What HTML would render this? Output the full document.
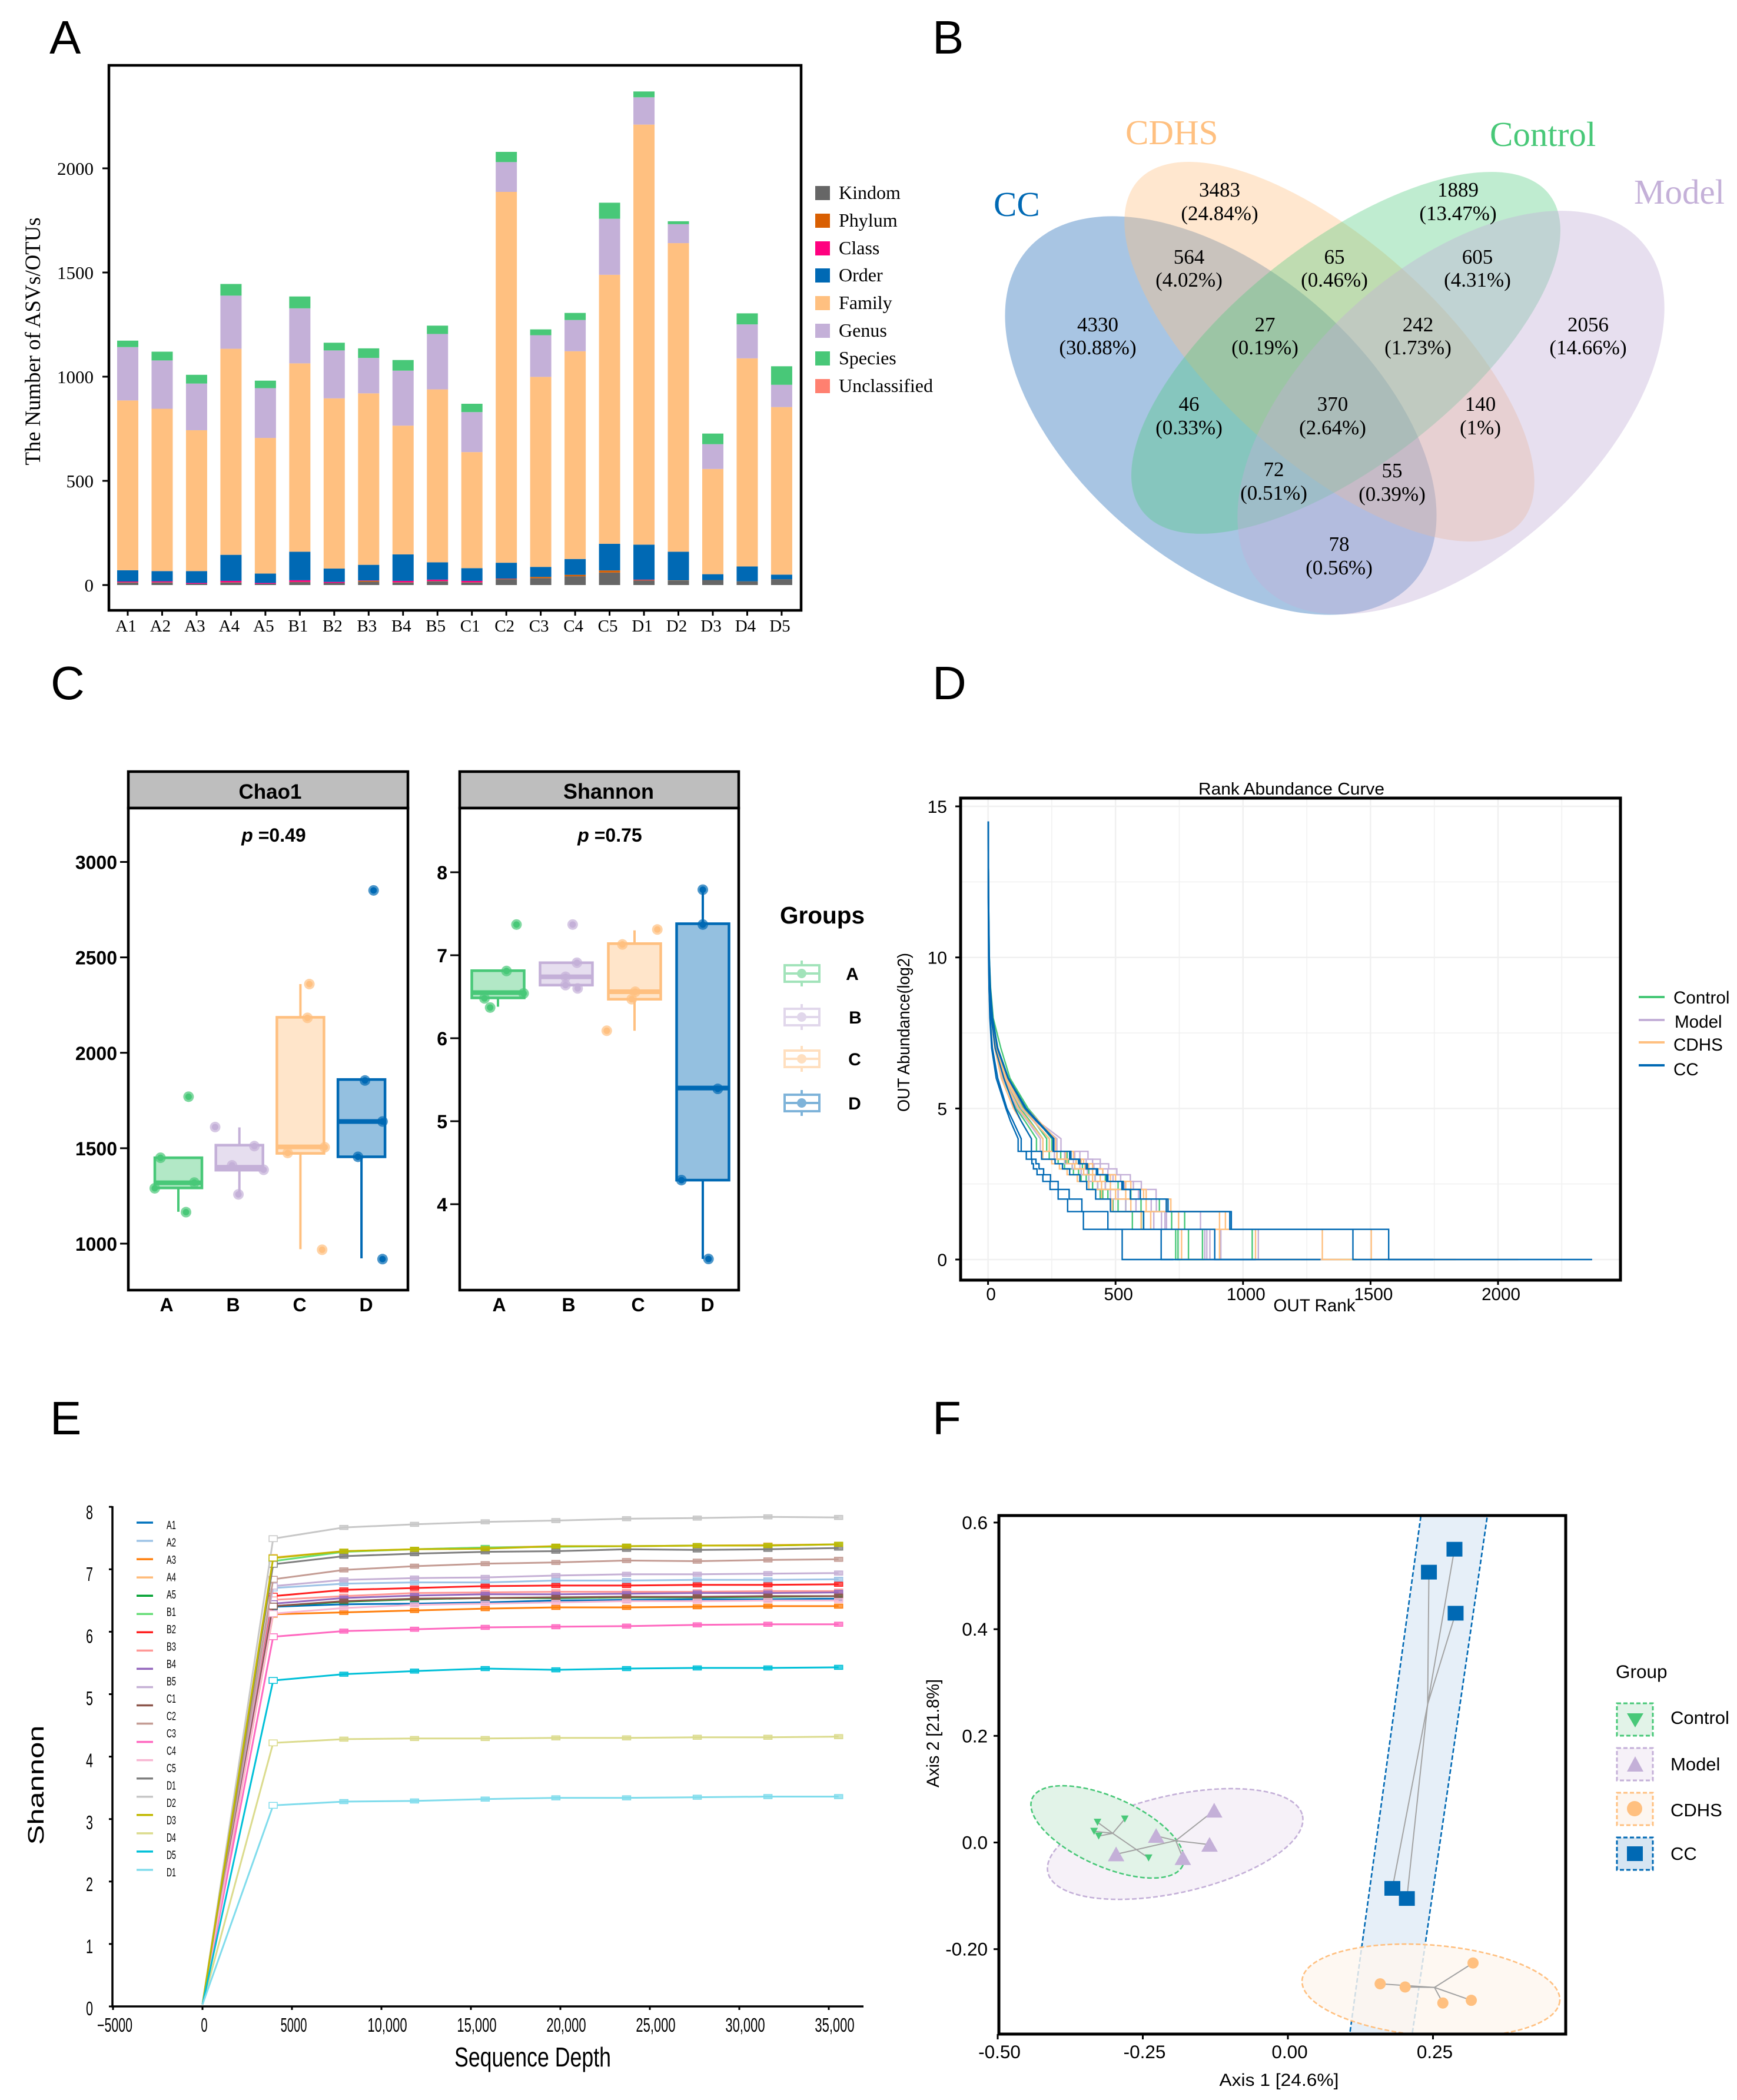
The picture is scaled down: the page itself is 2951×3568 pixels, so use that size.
<!DOCTYPE html>
<html lang="en">
<head>
<meta charset="utf-8">
<title>Microbiome multi-panel figure</title>
<style>
html,body{margin:0;padding:0;background:#fff;}
svg{display:block;}
.serif{font-family:"Liberation Serif",serif;}
.sans{font-family:"Liberation Sans",sans-serif;}
.letter{font-family:"Liberation Sans",sans-serif;font-size:80px;fill:#000;}
.venn-v{font-family:"Liberation Serif",serif;font-size:35px;fill:#000;text-anchor:middle;}
</style>
</head>
<body>
<svg id="figure" xmlns="http://www.w3.org/2000/svg" width="2951" height="3568" viewBox="0 0 2951 3568">
<defs>
<clipPath id="clipF"><rect x="1697" y="2575" width="963" height="881"/></clipPath>
</defs>
<rect x="0" y="0" width="2951" height="3568" fill="#ffffff"/>

<text class="letter" x="84" y="91">A</text>
<text class="letter" x="1584" y="91">B</text>
<text class="letter" x="86" y="1188">C</text>
<text class="letter" x="1584" y="1188">D</text>
<text class="letter" x="85" y="2437">E</text>
<text class="letter" x="1584" y="2437">F</text>

<!-- Panel A -->
<g id="panelA">
<text class="serif" transform="translate(68,580) rotate(-90)" text-anchor="middle" font-size="37" textLength="421" lengthAdjust="spacingAndGlyphs">The Number of ASVs/OTUs</text>
</g>
<g class="serif" font-size="32">
<rect x="1385" y="316" width="25" height="24" fill="#666666"/><text x="1425" y="338">Kindom</text>
<rect x="1385" y="363" width="25" height="24" fill="#D95F02"/><text x="1425" y="385">Phylum</text>
<rect x="1385" y="410" width="25" height="24" fill="#FF007F"/><text x="1425" y="432">Class</text>
<rect x="1385" y="456" width="25" height="24" fill="#0069B4"/><text x="1425" y="478">Order</text>
<rect x="1385" y="503" width="25" height="24" fill="#FFC080"/><text x="1425" y="525">Family</text>
<rect x="1385" y="550" width="25" height="24" fill="#C4B0D8"/><text x="1425" y="572">Genus</text>
<rect x="1385" y="597" width="25" height="24" fill="#48C878"/><text x="1425" y="619">Species</text>
<rect x="1385" y="644" width="25" height="24" fill="#FF8070"/><text x="1425" y="666">Unclassified</text>
</g>

<!-- Panel B -->
<g>
<ellipse cx="2074" cy="706" rx="433" ry="248" transform="rotate(40.5 2074 706)" fill="#0055AC" fill-opacity="0.34"/>
<ellipse cx="2258.5" cy="597.5" rx="436" ry="187.5" transform="rotate(41.8 2258.5 597.5)" fill="#FFBF80" fill-opacity="0.38"/>
<ellipse cx="2286.5" cy="599.5" rx="438" ry="188.5" transform="rotate(-37.9 2286.5 599.5)" fill="#48C878" fill-opacity="0.35"/>
<ellipse cx="2465" cy="701" rx="435" ry="244.6" transform="rotate(-41.9 2465 701)" fill="#C4B0D8" fill-opacity="0.4"/>
<g class="serif" font-size="59">
<text x="1688" y="367" fill="#0069B4">CC</text>
<text x="1912" y="245" fill="#FFC080">CDHS</text>
<text x="2531" y="248" fill="#48C878">Control</text>
<text x="2776" y="346" fill="#C4B0D8">Model</text>
</g>
<g>
<text class="venn-v" x="2072" y="334">3483</text><text class="venn-v" x="2072" y="374">(24.84%)</text>
<text class="venn-v" x="2477" y="334">1889</text><text class="venn-v" x="2477" y="374">(13.47%)</text>
<text class="venn-v" x="2020" y="448">564</text><text class="venn-v" x="2020" y="487">(4.02%)</text>
<text class="venn-v" x="2267" y="448">65</text><text class="venn-v" x="2267" y="487">(0.46%)</text>
<text class="venn-v" x="2510" y="448">605</text><text class="venn-v" x="2510" y="487">(4.31%)</text>
<text class="venn-v" x="1865" y="563">4330</text><text class="venn-v" x="1865" y="602">(30.88%)</text>
<text class="venn-v" x="2149" y="563">27</text><text class="venn-v" x="2149" y="602">(0.19%)</text>
<text class="venn-v" x="2409" y="563">242</text><text class="venn-v" x="2409" y="602">(1.73%)</text>
<text class="venn-v" x="2698" y="563">2056</text><text class="venn-v" x="2698" y="602">(14.66%)</text>
<text class="venn-v" x="2020" y="698">46</text><text class="venn-v" x="2020" y="738">(0.33%)</text>
<text class="venn-v" x="2264" y="698">370</text><text class="venn-v" x="2264" y="738">(2.64%)</text>
<text class="venn-v" x="2515" y="698">140</text><text class="venn-v" x="2515" y="738">(1%)</text>
<text class="venn-v" x="2164" y="809">72</text><text class="venn-v" x="2164" y="849">(0.51%)</text>
<text class="venn-v" x="2365" y="811">55</text><text class="venn-v" x="2365" y="851">(0.39%)</text>
<text class="venn-v" x="2275" y="936">78</text><text class="venn-v" x="2275" y="976">(0.56%)</text>
</g>
</g>

<!-- Panel C -->
<g id="panelC" class="sans" font-weight="bold">
<rect x="218" y="1311" width="475" height="62" fill="#BEBEBE" stroke="#000" stroke-width="4.5"/>
<rect x="218" y="1373" width="475" height="819" fill="#fff" stroke="#000" stroke-width="4.5"/>
<text x="459" y="1357" font-size="35" text-anchor="middle">Chao1</text>
<text x="465" y="1430" font-size="32" text-anchor="middle"><tspan font-style="italic">p</tspan> =0.49</text>
<rect x="781" y="1311" width="474" height="62" fill="#BEBEBE" stroke="#000" stroke-width="4.5"/>
<rect x="781" y="1373" width="474" height="819" fill="#fff" stroke="#000" stroke-width="4.5"/>
<text x="1034" y="1357" font-size="36" text-anchor="middle">Shannon</text>
<text x="1036" y="1430" font-size="32" text-anchor="middle"><tspan font-style="italic">p</tspan> =0.75</text>
<text x="1325" y="1569" font-size="40.5">Groups</text>
<g opacity="0.5">
<g stroke="#48C878" stroke-width="4" fill="none"><line x1="1362" y1="1632" x2="1362" y2="1676"/><rect x="1333" y="1640" width="59" height="28" fill="#fff"/><line x1="1333" y1="1654" x2="1392" y2="1654"/><circle cx="1362" cy="1654" r="6" fill="#48C878"/></g>
<g stroke="#C4B0D8" stroke-width="4" fill="none"><line x1="1362" y1="1706" x2="1362" y2="1750"/><rect x="1333" y="1714" width="59" height="28" fill="#fff"/><line x1="1333" y1="1728" x2="1392" y2="1728"/><circle cx="1362" cy="1728" r="6" fill="#C4B0D8"/></g>
<g stroke="#FFC080" stroke-width="4" fill="none"><line x1="1362" y1="1777" x2="1362" y2="1821"/><rect x="1333" y="1785" width="59" height="28" fill="#fff"/><line x1="1333" y1="1799" x2="1392" y2="1799"/><circle cx="1362" cy="1799" r="6" fill="#FFC080"/></g>
<g stroke="#0069B4" stroke-width="4" fill="none"><line x1="1362" y1="1852" x2="1362" y2="1896"/><rect x="1333" y="1860" width="59" height="28" fill="#fff"/><line x1="1333" y1="1874" x2="1392" y2="1874"/><circle cx="1362" cy="1874" r="6" fill="#0069B4"/></g>
</g>
<g font-size="30" text-anchor="middle">
<text x="1448" y="1665">A</text>
<text x="1453" y="1739">B</text>
<text x="1452" y="1810">C</text>
<text x="1452" y="1885">D</text>
</g>
</g>

<!-- Panel D -->
<g id="panelD" class="sans">
<text x="2194" y="1350" font-size="29" text-anchor="middle" textLength="316" lengthAdjust="spacingAndGlyphs">Rank Abundance Curve</text>
<text x="2233" y="2228" font-size="29.6" text-anchor="middle">OUT Rank</text>
<text transform="translate(1545,1754) rotate(-90)" font-size="29" text-anchor="middle" textLength="270" lengthAdjust="spacingAndGlyphs">OUT Abundance(log2)</text>
</g>
<g class="sans" font-size="29.6">
<line x1="2784" y1="1694" x2="2828" y2="1694" stroke="#48C878" stroke-width="4"/><text x="2843" y="1705">Control</text>
<line x1="2784" y1="1733" x2="2828" y2="1733" stroke="#C4B0D8" stroke-width="4"/><text x="2845" y="1746">Model</text>
<line x1="2784" y1="1771" x2="2828" y2="1771" stroke="#FFC080" stroke-width="4"/><text x="2843" y="1785">CDHS</text>
<line x1="2784" y1="1810" x2="2828" y2="1810" stroke="#0069B4" stroke-width="4"/><text x="2843" y="1827">CC</text>
</g>

<!-- Panel E -->
<g id="panelE" class="sans">
<text x="905" y="3511" font-size="46" text-anchor="middle" textLength="266" lengthAdjust="spacingAndGlyphs">Sequence Depth</text>
<text transform="translate(74,3033) rotate(-90)" font-size="38" text-anchor="middle" textLength="203" lengthAdjust="spacingAndGlyphs">Shannon</text>
</g>

<!-- Panel F -->
<g id="panelF" class="sans">
<text x="2173" y="3544" font-size="30" text-anchor="middle" textLength="203" lengthAdjust="spacingAndGlyphs">Axis 1 [24.6%]</text>
<text transform="translate(1595,2945) rotate(-90)" font-size="30" text-anchor="middle" textLength="184" lengthAdjust="spacingAndGlyphs">Axis 2 [21.8%]</text>
</g>
<g class="sans" font-size="31">
<text x="2745" y="2851" font-size="31.5">Group</text>
<rect x="2747" y="2894" width="61" height="55" fill="#E2F3E8" stroke="#48C878" stroke-width="3" stroke-dasharray="7 4"/>
<polygon points="2764,2911 2792,2911 2778,2935" fill="#48C878"/>
<text x="2838" y="2929">Control</text>
<rect x="2747" y="2970" width="61" height="55" fill="#F6F1F8" stroke="#C4B0D8" stroke-width="3" stroke-dasharray="7 4"/>
<polygon points="2764,3010 2792,3010 2778,2984" fill="#C4B0D8"/>
<text x="2838" y="3008">Model</text>
<rect x="2747" y="3046" width="61" height="55" fill="#FDF6F0" stroke="#FFC080" stroke-width="3" stroke-dasharray="7 4"/>
<circle cx="2777" cy="3073" r="13" fill="#FFC080"/>
<text x="2838" y="3086">CDHS</text>
<rect x="2747" y="3122" width="61" height="55" fill="#D6E5F2" stroke="#0069B4" stroke-width="3" stroke-dasharray="7 4"/>
<rect x="2764" y="3137" width="27" height="25" fill="#0069B4"/>
<text x="2838" y="3160">CC</text>
</g>
</svg>

<script>
/* ===== Panel A data ===== */
const sampleNames = ['A1','A2','A3','A4','A5','B1','B2','B3','B4','B5','C1','C2','C3','C4','C5','D1','D2','D3','D4','D5'];
const kingdomCounts = [12,12,6,12,6,14,10,16,12,18,12,28,33,42,60,22,20,24,18,28];
const phylumCounts = [1,1,0,1,0,1,0,4,1,1,1,2,6,7,10,2,2,0,0,0];
const classCounts = [4,5,4,7,4,8,5,2,7,7,7,1,0,0,0,2,0,0,0,0];
const orderCounts = [54,49,57,125,45,137,64,75,127,83,61,76,48,76,128,168,138,28,71,22];
const familyCounts = [815,779,676,989,651,904,817,823,618,830,557,1780,912,997,1291,2016,1481,505,999,804];
const genusCounts = [256,232,224,255,239,264,230,170,264,266,192,143,200,150,269,131,91,119,163,107];
const speciesCounts = [31,42,42,56,36,57,37,46,51,40,40,49,28,34,77,28,14,51,53,89];
const barTicks = [0,500,1000,1500,2000];

/* ===== Panel C data ===== */
const boxGroups = ['A','B','C','D'];
const chaoQ1 = [1292,1385,1473,1455];
const chaoMedian = [1319,1400,1507,1640];
const chaoQ3 = [1450,1516,2186,1860];
const chaoLow = [1167,1258,971,923];
const chaoHigh = [1450,1609,2360,1860];
const chaoPointsA = [1290,1450,1320,1165,1770];
const chaoPointsB = [1611,1511,1410,1387,1258];
const chaoPointsC = [2360,2183,1505,1475,968];
const chaoPointsD = [2851,1855,1640,1455,919];
const chaoJitterA = [-0.37,-0.28,0.25,0.12,0.16];
const chaoJitterB = [-0.38,0.235,-0.115,0.38,-0.015];
const chaoJitterC = [0.14,0.11,0.38,-0.2,0.34];
const chaoJitterD = [0.19,0.055,0.33,-0.055,0.33];
const chaoTicks = [1000,1500,2000,2500,3000];
const shanQ1 = [6.486,6.64,6.47,4.29];
const shanMedian = [6.55,6.74,6.56,5.40];
const shanQ3 = [6.814,6.91,7.14,7.38];
const shanLow = [6.38,6.64,6.09,3.34];
const shanHigh = [6.814,6.91,7.30,7.79];
const shanPointsA = [7.37,6.81,6.54,6.48,6.37];
const shanPointsB = [7.37,6.91,6.74,6.64,6.60];
const shanPointsC = [7.31,7.13,6.56,6.47,6.09];
const shanPointsD = [7.79,7.37,5.39,4.29,3.34];
const shanJitterA = [0.26,0.12,0.36,-0.19,-0.11];
const shanJitterB = [0.09,0.15,-0.01,-0.01,0.16];
const shanJitterC = [0.32,-0.17,0.01,-0.04,-0.39];
const shanJitterD = [0,0,0.21,-0.3,0.08];
const shanTicks = [4,5,6,7,8];

/* ===== Panel D data: rank at which each abundance level ends ===== */
const abundanceLevels = [14.5,12,10,9,8,7,6,5,4.58,4,3.58,3.32,3.17,3,2.807,2.585,2.32,2,1.585,1,0];
const rankA5 = [1,2,3,7,13,27,58,110,145,190,240,275,300,335,365,395,440,490,566,736,981];
const rankA3 = [1,2,4,7,14,29,66,140,180,230,285,315,340,365,395,430,470,540,601,745,1009];
const rankA2 = [1,2,4,7,14,28,64,125,165,215,270,305,330,355,385,410,450,510,610,786,1120];
const rankA1 = [1,2,5,10,20,50,86,157,200,255,320,355,390,425,460,510,560,672,771,841,1173];
const rankA4 = [1,2,4,8,16,38,80,150,195,250,310,345,370,395,420,460,500,600,720,1036,1445];
const rankB4 = [1,2,3,7,13,27,58,115,155,205,260,300,330,365,395,430,480,540,650,850,1080];
const rankB3 = [1,2,4,7,14,29,65,130,178,240,300,335,360,390,420,460,510,580,694,858,1136];
const rankB2 = [1,2,4,8,15,31,70,145,190,265,340,385,415,450,490,535,590,640,700,870,1163];
const rankB5 = [1,2,4,8,16,34,75,150,195,286,392,440,473,505,558,601,659,700,833,913,1245];
const rankB1 = [1,2,4,8,15,32,72,148,186,270,360,410,440,470,520,570,620,660,680,1060,1385];
const rankC1 = [1,2,3,7,13,26,52,100,130,170,215,250,280,310,350,395,445,487,600,759,870];
const rankC3 = [1,2,4,7,14,28,60,120,160,215,270,310,340,375,410,445,500,560,638,908,1227];
const rankC4 = [1,2,4,8,15,30,66,135,180,240,305,345,380,410,440,480,540,620,747,1049,1306];
const rankC5 = [1,2,4,8,16,33,72,150,200,265,335,375,410,450,500,560,620,717,908,1311,1835];
const rankC2 = [1,2,4,8,15,31,70,145,195,255,325,365,395,430,480,540,610,700,931,1503,2079];
const rankD3 = [1,1,2,4,7,14,32,70,88,118,150,172,178,192,215,243,275,312,374,526,727];
const rankD5 = [1,1,3,4,8,17,38,74,98,130,170,188,200,218,245,275,318,368,470,679,1050];
const rankD4 = [1,2,3,6,13,28,62,105,130,170,210,263,292,320,360,387,422,480,610,889,1304];
const rankD2 = [1,2,4,8,17,36,78,145,190,255,320,355,385,425,465,525,558,699,948,1431,1746];
const rankD1 = [1,2,5,9,18,38,80,150,195,258,325,360,390,430,470,530,597,706,954,1571,2369];
const rankXTicks = [0,500,1000,1500,2000];
const rankYTicks = [0,5,10,15];

/* ===== Panel E data ===== */
const depthValues = [0,3950,7900,11850,15800,19750,23700,27650,31600,35550];
const curveA1 = [0.03,6.40,6.44,6.45,6.47,6.50,6.51,6.52,6.52,6.53];
const curveA2 = [0.03,6.70,6.77,6.79,6.79,6.82,6.82,6.83,6.83,6.84];
const curveA3 = [0.03,6.28,6.31,6.34,6.37,6.39,6.39,6.40,6.41,6.41];
const curveA4 = [0.03,7.19,7.29,7.32,7.35,7.37,7.37,7.38,7.39,7.40];
const curveA5 = [0.03,6.41,6.48,6.52,6.54,6.54,6.55,6.55,6.56,6.57];
const curveB1 = [0.03,7.13,7.28,7.32,7.35,7.36,7.37,7.38,7.38,7.40];
const curveB2 = [0.03,6.57,6.67,6.70,6.73,6.74,6.74,6.75,6.75,6.76];
const curveB3 = [0.03,6.51,6.57,6.62,6.63,6.64,6.64,6.64,6.65,6.65];
const curveB4 = [0.03,6.45,6.54,6.58,6.60,6.60,6.61,6.62,6.62,6.63];
const curveB5 = [0.03,6.73,6.83,6.86,6.87,6.90,6.92,6.92,6.93,6.94];
const curveC1 = [0.03,6.41,6.49,6.53,6.54,6.55,6.56,6.56,6.57,6.57];
const curveC2 = [0.03,6.84,6.99,7.05,7.09,7.11,7.14,7.13,7.15,7.16];
const curveC3 = [0.03,5.92,6.01,6.04,6.07,6.08,6.09,6.11,6.12,6.12];
const curveC4 = [0.03,6.29,6.38,6.43,6.45,6.47,6.49,6.49,6.50,6.50];
const curveD1 = [0.03,7.08,7.21,7.25,7.28,7.29,7.32,7.31,7.32,7.34];
const curveD2 = [0.03,7.49,7.67,7.72,7.76,7.78,7.81,7.82,7.84,7.83];
const curveD3 = [0.03,7.18,7.29,7.32,7.33,7.37,7.37,7.38,7.38,7.40];
const curveD4 = [0.03,4.22,4.28,4.29,4.29,4.30,4.30,4.31,4.31,4.32];
const curveD5 = [0.03,5.22,5.32,5.37,5.41,5.39,5.41,5.42,5.42,5.43];
const curveD6 = [0.03,3.22,3.28,3.29,3.32,3.34,3.34,3.35,3.36,3.36];
const curveNames = ['A1','A2','A3','A4','A5','B1','B2','B3','B4','B5','C1','C2','C3','C4','D1','D2','D3','D4','D5','D6'];
const legendLabels = ['A1','A2','A3','A4','A5','B1','B2','B3','B4','B5','C1','C2','C3','C4','C5','D1','D2','D3','D4','D5','D1'];
const depthTickValues = [-5000,0,5000,10000,15000,20000,25000,30000,35000];
const depthTickLabels = ['\u22125000','0','5000','10,000','15,000','20,000','25,000','30,000','35,000'];
const shannonTicks = [0,1,2,3,4,5,6,7,8];

/* ===== Panel F data ===== */
const controlX = [-0.328,-0.281,-0.334,-0.326,-0.240];
const controlY = [0.038,0.044,0.021,0.012,-0.029];
const modelX = [-0.127,-0.135,-0.227,-0.181,-0.296];
const modelY = [0.060,-0.004,0.0125,-0.029,-0.022];
const cdhsX = [0.319,0.316,0.267,0.202,0.159];
const cdhsY = [-0.226,-0.296,-0.301,-0.271,-0.265];
const ccX = [0.287,0.243,0.289,0.180,0.205];
const ccY = [0.55,0.507,0.430,-0.086,-0.105];
const axis1Ticks = [-0.5,-0.25,0,0.25];
const axis1Labels = ['-0.50','-0.25','0.00','0.25'];
const axis2Ticks = [0.6,0.4,0.2,0,-0.2];
const axis2Labels = ['0.6','0.4','0.2','0.0','-0.20'];
const ccBandLeft = [0.2307,0.105];
const ccBandRight = [0.3453,0.2125];
const ccBandY = [0.625,-0.372];

/* ===== helpers ===== */
const NS = 'http://www.w3.org/2000/svg';
function make(parent, tag, attrs, text) {
  const node = document.createElementNS(NS, tag);
  for (const k in attrs) node.setAttribute(k, attrs[k]);
  if (text !== undefined) node.textContent = text;
  parent.appendChild(node);
  return node;
}
const GREEN = '#48C878', PURPLE = '#C4B0D8', ORANGE = '#FFC080', BLUE = '#0069B4';

/* ===== Panel A ===== */
(function () {
  const g = document.getElementById('panelA');
  const xA = i => 217 + 58.47 * i;
  const yA = v => 994 - v * 0.354;
  const layers = [
    ['kingdom', kingdomCounts, '#666666'], ['phylum', phylumCounts, '#D95F02'],
    ['class', classCounts, '#FF007F'], ['order', orderCounts, BLUE],
    ['family', familyCounts, ORANGE], ['genus', genusCounts, PURPLE], ['species', speciesCounts, GREEN]
  ];
  const frame = make(g, 'rect', { x: 185, y: 111, width: 1176, height: 926, fill: '#fff', stroke: '#000', 'stroke-width': 4.5 });
  
  
  sampleNames.forEach((name, i) => {
    let base = 0;
    layers.forEach(layer => {
      const v = layer[1][i];
      if (v > 0) {
        const bar = make(g, 'rect', { x: xA(i) - 18, y: yA(base + v), width: 36, height: yA(base) - yA(base + v), fill: layer[2] });
        
        
      }
      base += v;
    });
    const tick = make(g, 'line', { x1: xA(i), x2: xA(i), y1: 1037, y2: 1046, stroke: '#000', 'stroke-width': 3 });
    
    
    const label = make(g, 'text', { x: xA(i) - 3, y: 1073, 'font-size': 29, 'text-anchor': 'middle', class: 'serif' }, name);
    
    
  });
  barTicks.forEach(v => {
    const tick = make(g, 'line', { x1: 174, x2: 185, y1: yA(v), y2: yA(v), stroke: '#000', 'stroke-width': 3 });
    
    
    const label = make(g, 'text', { x: 159, y: yA(v) + 11, 'font-size': 31, 'text-anchor': 'end', class: 'serif' }, String(v));
    
    
  });
})();

/* ===== Panel C ===== */
(function () {
  const g = document.getElementById('panelC');
  const colors = [GREEN, PURPLE, ORANGE, BLUE];
  function drawPanel(prefix, xFn, yFn, step, boxW, q1, med, q3, low, high, pts, jit, ticks, tickRight, labelX) {
    boxGroups.forEach((grp, i) => {
      const c = colors[i], cx = xFn(i);
      const whisker = make(g, 'line', { x1: cx, x2: cx, y1: yFn(high[i]), y2: yFn(low[i]), stroke: c, 'stroke-width': 4 });
      
      
      const bg = make(g, 'rect', { x: cx - boxW / 2, y: yFn(q3[i]), width: boxW, height: yFn(q1[i]) - yFn(q3[i]), fill: '#fff' });
      
      
      const box = make(g, 'rect', { x: cx - boxW / 2, y: yFn(q3[i]), width: boxW, height: yFn(q1[i]) - yFn(q3[i]), fill: c, 'fill-opacity': 0.42, stroke: c, 'stroke-width': 4.5 });
      
      
      const median = make(g, 'line', { x1: cx - boxW / 2, x2: cx + boxW / 2, y1: yFn(med[i]), y2: yFn(med[i]), stroke: c, 'stroke-width': 8 });
      
      
      pts[i].forEach((v, k) => {
        const px = cx + jit[i][k] * step;
        const ring = make(g, 'circle', { cx: px, cy: yFn(v), r: 9, fill: c, 'fill-opacity': 0.7 });
        
        
        const dot = make(g, 'circle', { cx: px, cy: yFn(v), r: 5.5, fill: c });
        
        
      });
      const label = make(g, 'text', { x: labelX(i), y: 2228, 'font-size': 32, 'text-anchor': 'middle' }, grp);
      
      
    });
    ticks.forEach(v => {
      const tick = make(g, 'line', { x1: tickRight + 5, x2: tickRight + 19, y1: yFn(v), y2: yFn(v), stroke: '#000', 'stroke-width': 3 });
      
      
      const label = make(g, 'text', { x: tickRight, y: yFn(v) + 12, 'font-size': 32, 'text-anchor': 'end' }, String(v));
      
      
    });
  }
  drawPanel('chao1', i => 303 + 103.7 * i, v => 2113 - (v - 1000) * 0.32425, 108.4, 80,
    chaoQ1, chaoMedian, chaoQ3, chaoLow, chaoHigh,
    [chaoPointsA, chaoPointsB, chaoPointsC, chaoPointsD],
    [chaoJitterA, chaoJitterB, chaoJitterC, chaoJitterD], chaoTicks, 199, i => 283 + 113 * i);
  drawPanel('shannon', i => 846 + 116 * i, v => 2046 - (v - 4) * 141, 121, 89,
    shanQ1, shanMedian, shanQ3, shanLow, shanHigh,
    [shanPointsA, shanPointsB, shanPointsC, shanPointsD],
    [shanJitterA, shanJitterB, shanJitterC, shanJitterD], shanTicks, 760, i => 848 + 118 * i);
})();

/* ===== Panel D ===== */
(function () {
  const g = document.getElementById('panelD');
  const xD = r => 1678.6 + 0.4332 * r;
  const yD = v => 2140 - 51.33 * v;
  for (let r = 0; r <= 2250; r += 250) {
    const grid = make(g, 'line', { x1: xD(r), x2: xD(r), y1: 1358, y2: 2173, stroke: '#F0F0F0', 'stroke-width': r % 500 === 0 ? 2.5 : 1.5 });
    
    
  }
  for (let a = 0; a <= 15; a += 2.5) {
    const grid = make(g, 'line', { x1: 1634, x2: 2751, y1: yD(a), y2: yD(a), stroke: '#F0F0F0', 'stroke-width': a % 5 === 0 ? 2.5 : 1.5 });
    
    
  }
  const groups = [
    ['control', GREEN, [rankA5, rankA3, rankA2, rankA1, rankA4]],
    ['model', PURPLE, [rankB4, rankB3, rankB2, rankB5, rankB1]],
    ['cdhs', ORANGE, [rankC1, rankC3, rankC4, rankC5, rankC2]],
    ['cc', BLUE, [rankD3, rankD5, rankD4, rankD2, rankD1]]
  ];
  groups.forEach(grp => {
    grp[2].forEach((ranks, s) => {
      let d = 'M' + xD(ranks[0]).toFixed(1) + ' ' + yD(abundanceLevels[0]).toFixed(1);
      for (let i = 1; i < ranks.length; i++) {
        const lv = abundanceLevels[i];
        if (lv > 3.6) {
          d += 'L' + xD(ranks[i]).toFixed(1) + ' ' + yD(lv).toFixed(1);
        } else {
          d += 'L' + xD(ranks[i - 1]).toFixed(1) + ' ' + yD(lv).toFixed(1);
          d += 'L' + xD(ranks[i]).toFixed(1) + ' ' + yD(lv).toFixed(1);
        }
      }
      const curve = make(g, 'path', { d: d, fill: 'none', stroke: grp[1], 'stroke-width': 2.4 });
      
      
    });
  });
  const frame = make(g, 'rect', { x: 1632, y: 1356, width: 1121, height: 819, fill: 'none', stroke: '#000', 'stroke-width': 5 });
  
  
  rankXTicks.forEach(v => {
    const tick = make(g, 'line', { x1: xD(v), x2: xD(v), y1: 2175, y2: 2183, stroke: '#000', 'stroke-width': 3 });
    
    
    const label = make(g, 'text', { x: xD(v) + 5, y: 2209, 'font-size': 29.6, 'text-anchor': 'middle' }, String(v));
    
    
  });
  rankYTicks.forEach(v => {
    const tick = make(g, 'line', { x1: 1623, x2: 1632, y1: yD(v), y2: yD(v), stroke: '#000', 'stroke-width': 3 });
    
    
    const label = make(g, 'text', { x: 1609, y: yD(v) + 11, 'font-size': 30, 'text-anchor': 'end' }, String(v));
    
    
  });
})();

/* ===== Panel E ===== */
(function () {
  const g = document.getElementById('panelE');
  const xE = v => 344 + 0.0304 * v;
  const yE = v => 3409 - 106.1 * v;
  const curves = [curveA1, curveA2, curveA3, curveA4, curveA5, curveB1, curveB2, curveB3, curveB4, curveB5, curveC1, curveC2, curveC3, curveC4, curveD1, curveD2, curveD3, curveD4, curveD5, curveD6];
  const colors = ['#0072BD','#9DC3E6','#FF7F0E','#FFBB78','#00A030','#66DD77','#FF2020','#FF9896','#9467BD','#C5B0D5','#8C564B','#C49C94','#FF69C0','#F7B6D2','#7F7F7F','#C7C7C7','#C0B800','#DBDB8D','#00C0D8','#80DCEC'];
  curves.forEach((vals, s) => {
    const pts = vals.map((v, i) => xE(depthValues[i]).toFixed(1) + ',' + yE(v).toFixed(1)).join(' ');
    const line = make(g, 'polyline', { points: pts, fill: 'none', stroke: colors[s], 'stroke-width': 3 });
    
    
    vals.forEach((v, i) => {
      if (i === 0) return;
      const h = i === 1 ? 10 : 7;
      const mark = make(g, 'rect', { x: xE(depthValues[i]) - 7, y: yE(v) - h / 2, width: 14, height: h, fill: i < 2 ? '#fff' : colors[s], 'fill-opacity': i < 2 ? 1 : 0.75, stroke: colors[s], 'stroke-width': 1.5 });
      
      
    });
    const key = make(g, 'line', { x1: 232, x2: 260, y1: 2587 + 31.05 * s, y2: 2587 + 31.05 * s, stroke: colors[s], 'stroke-width': 3.5 });
    
    
  });
  legendLabels.forEach((name, i) => {
    const label = make(g, 'text', { x: 283, y: 2598 + 29.5 * i, 'font-size': 20, textLength: 16, lengthAdjust: 'spacingAndGlyphs' }, name);
    
    
  });
  const yAxis = make(g, 'line', { x1: 191, x2: 191, y1: 2559, y2: 3410, stroke: '#000', 'stroke-width': 3.5 });
  
  
  const xAxis = make(g, 'line', { x1: 189, x2: 1467, y1: 3409, y2: 3409, stroke: '#000', 'stroke-width': 3.5 });
  
  
  depthTickValues.forEach((v, i) => {
    const tick = make(g, 'line', { x1: xE(v), x2: xE(v), y1: 3409, y2: 3415, stroke: '#000', 'stroke-width': 3 });
    
    
    const text = depthTickLabels[i];
    const labelShift = Math.abs(v) >= 10000 ? 10 : 3;
    const label = make(g, 'text', { x: xE(v) + labelShift, y: 3452, 'font-size': 33, 'text-anchor': 'middle', textLength: text.length === 5 ? 60 : text.length * 11.2, lengthAdjust: 'spacingAndGlyphs' }, text);
    
    
  });
  shannonTicks.forEach(v => {
    const tick = make(g, 'line', { x1: 185, x2: 191, y1: yE(v), y2: yE(v), stroke: '#000', 'stroke-width': 3 });
    
    
    const label = make(g, 'text', { x: 152, y: yE(v) + 15 + 0.7 * v, 'font-size': 33, 'text-anchor': 'middle', textLength: 12, lengthAdjust: 'spacingAndGlyphs' }, String(v));
    
    
  });
})();

/* ===== Panel F ===== */
(function () {
  const g = document.getElementById('panelF');
  const xF = v => 2188 + 986 * v;
  const yF = v => 3130.5 - 906 * v;
  const mean = a => a.reduce((s, v) => s + v, 0) / a.length;
  const clip = make(g, 'g', { 'clip-path': 'url(#clipF)' });
  
  
  const bandPath = 'M' + xF(ccBandLeft[0]) + ' ' + yF(ccBandY[0]) + 'L' + xF(ccBandLeft[1]) + ' ' + yF(ccBandY[1]) +
    'L' + xF(ccBandRight[1]) + ' ' + yF(ccBandY[1]) + 'L' + xF(ccBandRight[0]) + ' ' + yF(ccBandY[0]) + 'Z';
  const band = make(clip, 'path', { d: bandPath, fill: '#E6EFF8', stroke: BLUE, 'stroke-width': 2.6, 'stroke-dasharray': '8 4' });
  
  
  const ellipses = [
    ['model', -0.1942, -0.0028, 221.6, 82.7, -12.6, '#F6F1F8', PURPLE, 1],
    ['control', -0.3108, 0.0199, 140, 59, 24, '#E2F3E8', GREEN, 1],
    ['cdhs', 0.2465, -0.2776, 219.6, 77.2, 4.6, '#FEF6EF', ORANGE, 0.82]
  ];
  ellipses.forEach(e => {
    const cx = xF(e[1]), cy = yF(e[2]);
    const shape = make(clip, 'ellipse', { cx: cx, cy: cy, rx: e[3], ry: e[4], transform: 'rotate(' + e[5] + ' ' + cx + ' ' + cy + ')', fill: e[6], 'fill-opacity': e[8], stroke: e[7], 'stroke-width': 2.6, 'stroke-dasharray': '8 4' });
    
    
  });
  const groups = [
    ['control', controlX, controlY, GREEN, 'down'],
    ['model', modelX, modelY, PURPLE, 'up'],
    ['cdhs', cdhsX, cdhsY, ORANGE, 'circle'],
    ['cc', ccX, ccY, BLUE, 'square']
  ];
  groups.forEach(grp => {
    const cx = xF(mean(grp[1])), cy = yF(mean(grp[2]));
    grp[1].forEach((v, i) => {
      const spoke = make(clip, 'line', { x1: cx, y1: cy, x2: xF(v), y2: yF(grp[2][i]), stroke: '#A3A3A3', 'stroke-width': 2 });
      
      
    });
  });
  groups.forEach(grp => {
    grp[1].forEach((v, i) => {
      const px = xF(v), py = yF(grp[2][i]);
      let mark;
      if (grp[4] === 'down') {
        mark = make(clip, 'polygon', { points: (px - 6.5) + ',' + (py - 6) + ' ' + (px + 6.5) + ',' + (py - 6) + ' ' + px + ',' + (py + 6), fill: grp[3] });
      } else if (grp[4] === 'up') {
        mark = make(clip, 'polygon', { points: (px - 14) + ',' + (py + 12) + ' ' + (px + 14) + ',' + (py + 12) + ' ' + px + ',' + (py - 13), fill: grp[3] });
      } else if (grp[4] === 'circle') {
        mark = make(clip, 'circle', { cx: px, cy: py, r: 9.5, fill: grp[3] });
      } else {
        mark = make(clip, 'rect', { x: px - 13.5, y: py - 12.5, width: 27, height: 25, fill: grp[3] });
      }
      
      
    });
  });
  const frame = make(g, 'rect', { x: 1697, y: 2575, width: 963, height: 881, fill: 'none', stroke: '#000', 'stroke-width': 5 });
  
  
  axis1Ticks.forEach((v, i) => {
    const tick = make(g, 'line', { x1: xF(v), x2: xF(v), y1: 3456, y2: 3465, stroke: '#000', 'stroke-width': 3 });
    
    
    const label = make(g, 'text', { x: xF(v) + 3, y: 3497, 'font-size': 31.5, 'text-anchor': 'middle' }, axis1Labels[i]);
    
    
  });
  axis2Ticks.forEach((v, i) => {
    const tick = make(g, 'line', { x1: 1688, x2: 1697, y1: yF(v), y2: yF(v), stroke: '#000', 'stroke-width': 3 });
    
    
    const label = make(g, 'text', { x: 1678, y: yF(v) + 11, 'font-size': 31.5, 'text-anchor': 'end' }, axis2Labels[i]);
    
    
  });
})();
</script>
</body>
</html>
